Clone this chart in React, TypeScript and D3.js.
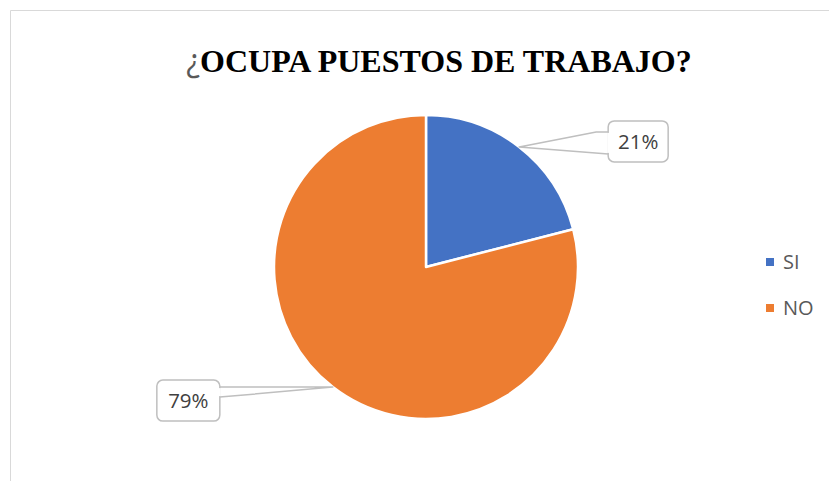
import React from "react";
import * as d3 from "d3";

const categories = ["SI", "NO"];
const values = [21, 79];
const colors = ["#4472C4", "#ED7D31"];
const labels = ["21%", "79%"];

const W = 829;
const H = 481;

export default function App() {
  const cx = 426;
  const cy = 267;
  const r = 152;

  const pie = d3
    .pie<number>()
    .sort(null)
    .value((d) => d);
  const arcs = pie(values);
  const arcGen = d3.arc<d3.PieArcDatum<number>>().innerRadius(0).outerRadius(r);

  const apex = (a: d3.PieArcDatum<number>) => {
    const m = (a.startAngle + a.endAngle) / 2;
    return [cx + r * Math.sin(m), cy - r * Math.cos(m)];
  };

  const bw = [60, 63];
  const bh = 41;
  const callouts = arcs.map((a, i) => {
    const [ax, ay] = apex(a);
    if (i === 0) {
      const x = ax + 89;
      const y = ay - 26;
      const wedge = `M${x},${y + 11} L${ax + 77},${y + 11} L${ax},${ay} L${x},${y + 33}`;
      return { x, y, w: bw[i], wedge, side: "left" };
    } else {
      const x = ax - 176;
      const y = ay - 7;
      const w = bw[i];
      const wedge = `M${x + w},${y + 7} L${ax},${ay} L${x + w},${y + 17}`;
      return { x, y, w, wedge, side: "right" };
    }
  });

  const legendY = d3.scalePoint<string>().domain(categories).range([262, 308]);

  return (
    <svg width={W} height={H} style={{ position: "absolute", left: 0, top: 0 }}>
      <rect x={0} y={0} width={W} height={H} fill="#fff" />
      <line x1={10.5} y1={10.5} x2={W} y2={10.5} stroke="#d9d9d9" strokeWidth={1} />
      <line x1={10.5} y1={10.5} x2={10.5} y2={H} stroke="#d9d9d9" strokeWidth={1} />

      <text
        x={439}
        y={72}
        textAnchor="middle"
        fontFamily="'Liberation Serif', 'Times New Roman', serif"
        fontWeight="bold"
        fontSize={32}
        fill="#000"
      >
        <tspan fill="#595959" fontFamily="'Open Sans', sans-serif" fontWeight="normal">
          ¿
        </tspan>
        OCUPA PUESTOS DE TRABAJO?
      </text>

      <g transform={`translate(${cx},${cy})`}>
        {arcs.map((a, i) => (
          <path key={i} d={arcGen(a) || ""} fill={colors[i]} stroke="#fff" strokeWidth={2.5} strokeLinejoin="round" />
        ))}
      </g>

      {callouts.map((c, i) => (
        <g key={i}>
          <path d={c.wedge} fill="#fff" stroke="#bfbfbf" strokeWidth={1.5} strokeLinejoin="round" />
          <rect x={c.x} y={c.y} width={c.w} height={bh} rx={6} fill="#fff" stroke="#bfbfbf" strokeWidth={1.5} />
          {c.side === "left" ? (
            <line x1={c.x} y1={c.y + 12} x2={c.x} y2={c.y + 32} stroke="#fff" strokeWidth={2} />
          ) : (
            <line x1={c.x + c.w} y1={c.y + 8} x2={c.x + c.w} y2={c.y + 16} stroke="#fff" strokeWidth={2} />
          )}
          <text
            x={c.x + c.w / 2}
            y={c.y + bh / 2}
            dy="0.35em"
            textAnchor="middle"
            fontFamily="'Open Sans', sans-serif"
            fontSize={20.5}
            fill="#404040"
          >
            {labels[i]}
          </text>
        </g>
      ))}

      {categories.map((c, i) => (
        <g key={c}>
          <rect x={766} y={(legendY(c) || 0) - 4} width={8} height={8} fill={colors[i]} />
          <text
            x={783}
            y={legendY(c) || 0}
            dy="0.35em"
            fontFamily="'Open Sans', sans-serif"
            fontSize={20}
            fill="#595959"
          >
            {c}
          </text>
        </g>
      ))}
    </svg>
  );
}
